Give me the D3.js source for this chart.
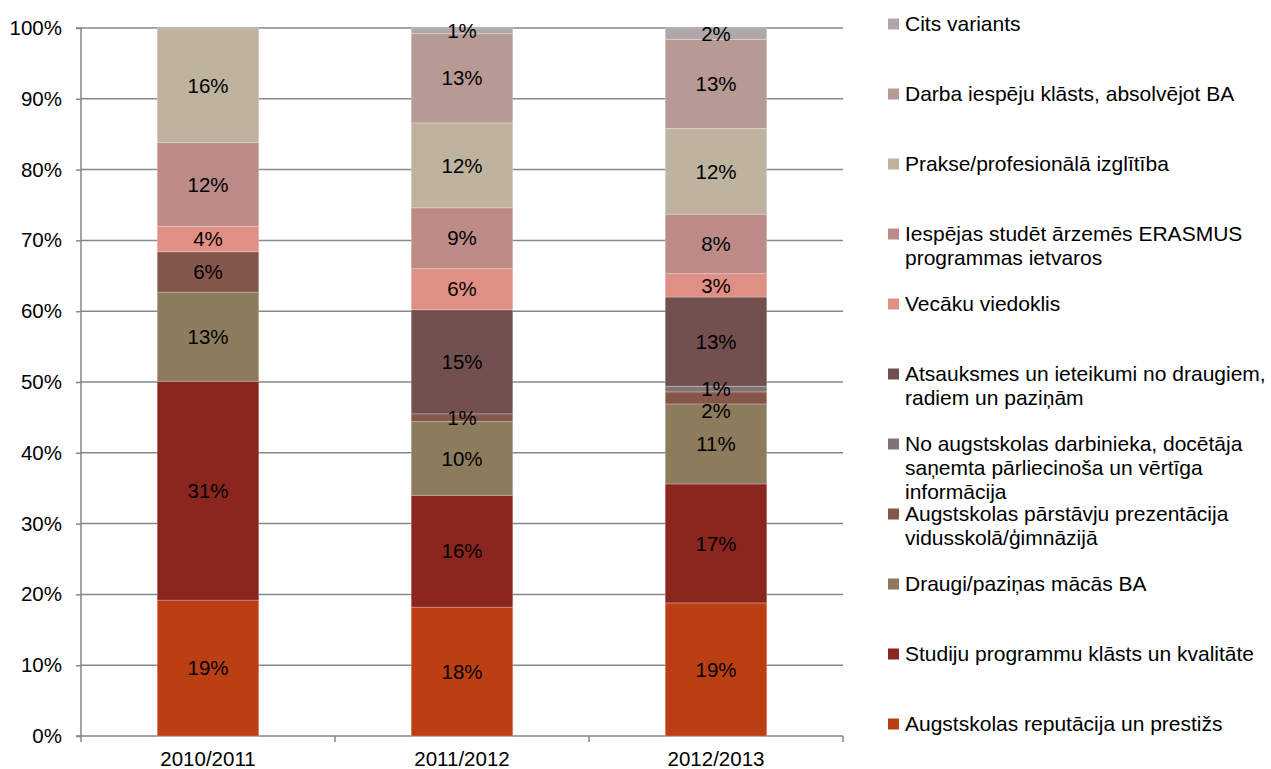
<!DOCTYPE html>
<html><head><meta charset="utf-8">
<script src="https://cdn.jsdelivr.net/npm/d3@7"></script>
<style>body{margin:0;background:#fff}svg{display:block;font-family:"Liberation Sans",Arial,sans-serif}</style>
</head><body><svg id="c" width="1271" height="769"></svg>
<script>
const categories = ["2010/2011", "2011/2012", "2012/2013"];
const seriesNames = [
  "Augstskolas reputācija un prestižs",
  "Studiju programmu klāsts un kvalitāte",
  "Draugi/paziņas mācās BA",
  "Augstskolas pārstāvju prezentācija vidusskolā/ģimnāzijā",
  "No augstskolas darbinieka, docētāja saņemta pārliecinoša un vērtīga informācija",
  "Atsauksmes un ieteikumi no draugiem, radiem un paziņām",
  "Vecāku viedoklis",
  "Iespējas studēt ārzemēs ERASMUS programmas ietvaros",
  "Prakse/profesionālā izglītība",
  "Darba iespēju klāsts, absolvējot BA",
  "Cits variants"
];
const legendLines = [
  ["Augstskolas reputācija un prestižs"],
  ["Studiju programmu klāsts un kvalitāte"],
  ["Draugi/paziņas mācās BA"],
  ["Augstskolas pārstāvju prezentācija", "vidusskolā/ģimnāzijā"],
  ["No augstskolas darbinieka, docētāja", "saņemta pārliecinoša un vērtīga", "informācija"],
  ["Atsauksmes un ieteikumi no draugiem,", "radiem un paziņām"],
  ["Vecāku viedoklis"],
  ["Iespējas studēt ārzemēs ERASMUS", "programmas ietvaros"],
  ["Prakse/profesionālā izglītība"],
  ["Darba iespēju klāsts, absolvējot BA"],
  ["Cits variants"]
];
const colors = ["#BC3F14","#8B261E","#8D7B5D","#85574A","#7F7373","#735050","#E08F84","#BC8A87","#BEB39E","#B79A93","#B0A7AA"];
// values per series, in category order (percent)
const reputacija  = [19.2, 18.2, 18.8];
const studiju     = [30.9, 15.8, 16.8];
const draugi      = [12.6, 10.4, 11.3];
const parstavju   = [5.7, 1.1, 1.7];
const noAugst     = [0, 0, 0.8];
const atsauksmes  = [0, 14.7, 12.6];
const vecaku      = [3.6, 5.8, 3.3];
const erasmus     = [11.8, 8.6, 8.4];
const prakse      = [16.2, 12.0, 12.1];
const darba       = [0, 12.6, 12.6];
const cits        = [0, 0.8, 1.6];
const yTicks = [0, 0.1, 0.2, 0.3, 0.4, 0.5, 0.6, 0.7, 0.8, 0.9, 1.0];

const seriesVals = [reputacija, studiju, draugi, parstavju, noAugst, atsauksmes, vecaku, erasmus, prakse, darba, cits];
const table = categories.map((c, i) => {
  const row = {cat: c};
  seriesNames.forEach((s, j) => row[s] = seriesVals[j][i]);
  return row;
});
const stacked = d3.stack().keys(seriesNames).offset(d3.stackOffsetExpand)(table);

const svg = d3.select("#c");
const mLeft = 81, mRight = 843, mTop = 28, mBottom = 736;
const x = d3.scaleBand().domain(categories).range([mLeft, mRight]).paddingInner(0.6).paddingOuter(0.3);
const y = d3.scaleLinear().domain([0, 1]).range([mBottom, mTop]);
const gridColor = "#878787";

// gridlines
svg.append("g").selectAll("line").data(yTicks.slice(1)).join("line")
  .attr("x1", mLeft).attr("x2", mRight).attr("y1", d => y(d)).attr("y2", d => y(d))
  .attr("stroke", gridColor).attr("stroke-width", 1.5);

// y axis
const yAxis = svg.append("g").attr("transform", `translate(${mLeft},0)`)
  .call(d3.axisLeft(y).tickValues(yTicks).tickFormat(d3.format(".0%")).tickSize(5).tickPadding(14));
yAxis.select(".domain").attr("stroke", gridColor).attr("stroke-width", 1.5).attr("d", `M-5,${mTop}H0V${mBottom}H-5`);
yAxis.selectAll(".tick line").attr("stroke", gridColor).attr("stroke-width", 1.5);
yAxis.selectAll(".tick text").attr("font-size", 20.5).attr("fill", "#000").attr("font-family", "Liberation Sans, Arial, sans-serif");

// x axis
const step = x.step();
const boundaries = [0, 1, 2, 3].map(i => mLeft + i * step);
const xg = svg.append("g");
xg.append("line").attr("x1", mLeft).attr("x2", mRight).attr("y1", mBottom).attr("y2", mBottom).attr("stroke", gridColor).attr("stroke-width", 1.5);
xg.selectAll("line.t").data(boundaries).join("line").attr("class", "t")
  .attr("x1", d => d).attr("x2", d => d).attr("y1", mBottom).attr("y2", mBottom + 6)
  .attr("stroke", gridColor).attr("stroke-width", 1.5);
xg.selectAll("text").data(categories).join("text")
  .attr("x", d => x(d) + x.bandwidth() / 2).attr("y", 759)
  .attr("text-anchor", "middle").attr("dy", "0.35em").attr("font-size", 20.5).attr("fill", "#000")
  .text(d => d);

// bars
const layers = svg.append("g").selectAll("g").data(stacked).join("g")
  .attr("fill", (d, i) => colors[i]);
layers.selectAll("rect").data(d => d.filter(p => p[1] - p[0] > 0)).join("rect")
  .attr("x", d => x(d.data.cat)).attr("width", x.bandwidth())
  .attr("y", d => y(d[1])).attr("height", d => y(d[0]) - y(d[1]))
  .attr("stroke", "rgba(255,255,255,0.3)").attr("stroke-width", 0.8);

// labels (collect per bar, then push overlapping ones downward)
const lab = svg.append("g");
categories.forEach((c, ci) => {
  const items = [];
  stacked.forEach(layer => {
    const p = layer[ci];
    if (p[1] - p[0] > 0) items.push({cy: (y(p[0]) + y(p[1])) / 2, text: Math.round(p.data[layer.key]) + "%"});
  });
  items.sort((a, b) => a.cy - b.cy);
  let prev = -Infinity;
  items.forEach(it => {
    if (it.cy - prev < 22) it.cy = prev + 22;
    prev = it.cy;
    lab.append("text")
      .attr("x", x(c) + x.bandwidth() / 2).attr("y", it.cy)
      .attr("dy", "0.35em").attr("text-anchor", "middle")
      .attr("font-size", 20.5).attr("fill", "#000")
      .text(it.text);
  });
});

// legend (top = last series)
const lg = svg.append("g");
const n = seriesNames.length;
seriesNames.forEach((s, i) => {
  const slot = n - 1 - i;
  const cy = 24 + slot * 70;
  lg.append("rect").attr("x", 888).attr("y", cy - 5.5).attr("width", 11).attr("height", 11).attr("fill", colors[i]);
  const t = lg.append("text").attr("x", 905).attr("y", cy).attr("font-size", 21).attr("fill", "#000");
  legendLines[i].forEach((ln, k) => {
    t.append("tspan").attr("x", 905).attr("y", cy + k * 24).attr("dy", "0.35em").text(ln);
  });
});
</script>
</body></html>
